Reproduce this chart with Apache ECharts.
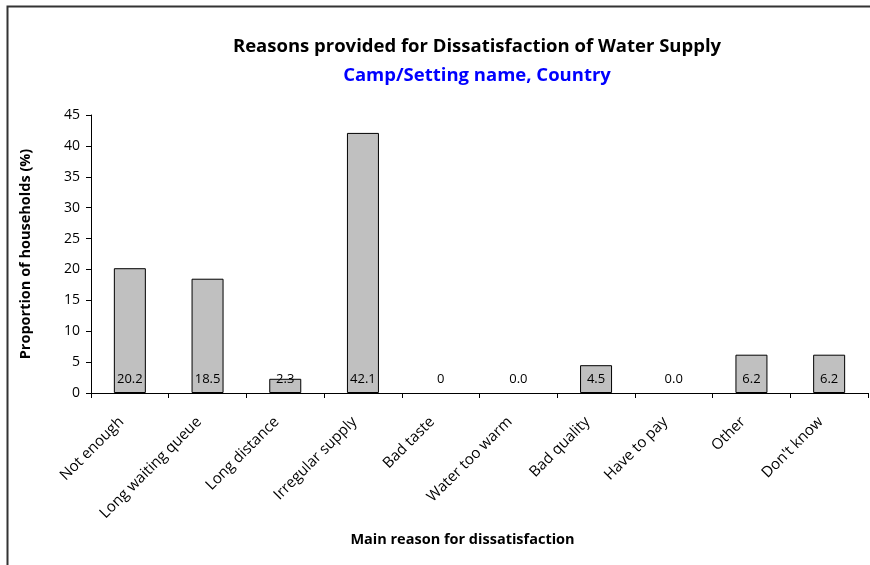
<!DOCTYPE html>
<html><head><meta charset="utf-8">
<script src="https://cdn.jsdelivr.net/npm/echarts@6/dist/echarts.min.js"></script>
<style>html,body{margin:0;padding:0;background:#fff}#c{width:870px;height:565px}</style>
</head><body><div id="c"></div>
<script>
const categories = ["Not enough","Long waiting queue","Long distance","Irregular supply","Bad taste","Water too warm","Bad quality","Have to pay","Other","Don't know"];
const values = [20.2,18.5,2.3,42.1,0,0,4.5,0,6.2,6.2];
const valueLabels = ["20.2","18.5","2.3","42.1","0","0.0","4.5","0.0","6.2","6.2"];
const yTicks = [0,5,10,15,20,25,30,35,40,45];
const titleText = "Reasons provided for Dissatisfaction of Water Supply";
const subtitleText = "Camp/Setting name, Country";
const xName = "Main reason for dissatisfaction";
const yName = "Proportion of households (%)";

const FONT = "Open Sans";
const chart = echarts.init(document.getElementById('c'), null, {renderer:'canvas'});
chart.setOption({
  animation:false,
  backgroundColor:'#fff',
  graphic:[{type:'rect',shape:{x:7.5,y:6.5,width:900,height:600},style:{fill:'none',stroke:'#333',lineWidth:2},silent:true}],
  title:[
    {text:titleText,left:472,top:32,textAlign:'center',textStyle:{fontFamily:FONT,fontWeight:'bold',fontSize:18.5,color:'#000'}},
    {text:subtitleText,left:472,top:61,textAlign:'center',textStyle:{fontFamily:FONT,fontWeight:'bold',fontSize:18.5,color:'#0000ff'}}
  ],
  grid:{left:91,right:2,top:115,bottom:172,containLabel:false},
  xAxis:{
    type:'category',data:categories,
    name:xName,nameLocation:'middle',nameGap:139,
    nameTextStyle:{fontFamily:FONT,fontWeight:'bold',fontSize:14.5,color:'#000',padding:[0,34,0,0]},
    axisLine:{lineStyle:{color:'#000',width:1}},
    axisTick:{show:true,length:5,lineStyle:{color:'#000'}},
    axisLabel:{rotate:45,fontFamily:FONT,fontSize:15,color:'#000',margin:18,interval:0,padding:[0,12,0,0]}
  },
  yAxis:{
    type:'value',min:0,max:45,interval:5,
    name:yName,nameLocation:'middle',nameGap:58,
    nameTextStyle:{fontFamily:FONT,fontWeight:'bold',fontSize:14.5,color:'#000'},
    splitLine:{show:false},
    axisLine:{show:true,lineStyle:{color:'#000',width:1}},
    axisTick:{show:true,length:5,lineStyle:{color:'#000'}},
    axisLabel:{fontFamily:FONT,fontSize:14,color:'#000',margin:11,
      formatter:v=>yTicks.includes(v)?String(v):''}
  },
  series:[{
    type:'bar',
    data:values.map(v=>({value:v,itemStyle:v===0?{borderWidth:0}:{}})),
    barWidth:32,
    itemStyle:{color:'#c0c0c0',borderColor:'#000',borderWidth:1},
    label:{show:true,position:'insideBottom',distance:7,fontFamily:FONT,fontSize:13,color:'#000',
      formatter:p=>valueLabels[p.dataIndex]}
  }]
});
</script></body></html>
